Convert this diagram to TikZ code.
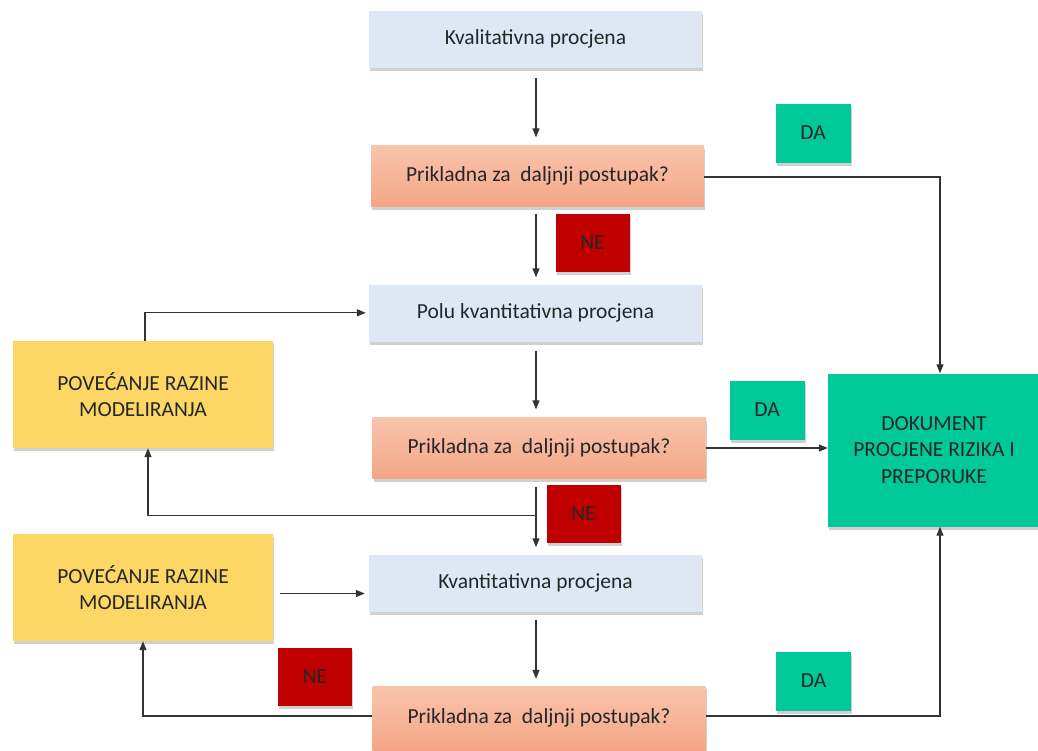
\documentclass[tikz,border=0pt]{standalone}
\usepackage{fontspec}
\setmainfont{Carlito}
\usetikzlibrary{arrows.meta,shadows,calc}
\definecolor{boxblue}{HTML}{DEE8F4}
\definecolor{salmtop}{HTML}{F9C4AC}
\definecolor{salmbot}{HTML}{F4A686}
\definecolor{dagreen}{HTML}{00C999}
\definecolor{nered}{HTML}{C00000}
\definecolor{povyel}{HTML}{FDD766}
\definecolor{linegray}{HTML}{333333}
\begin{document}
\begin{tikzpicture}[x=1pt,y=-1pt,
  every node/.style={font=\fontsize{21.5}{26.5}\selectfont, text=black!85, inner sep=0pt, align=center},
  shad/.style={drop shadow={shadow xshift=1pt,shadow yshift=-3pt,opacity=0.3,fill=black!60}},
  bluebox/.style={shad, fill=boxblue, minimum width=333pt, minimum height=57pt},
  qbox/.style={shad, top color=salmtop, bottom color=salmbot, minimum width=333pt, minimum height=61pt},
  dabox/.style={shad, fill=dagreen, minimum width=75pt, minimum height=59pt},
  nebox/.style={shad, fill=nered, minimum width=74pt, minimum height=58pt},
  povbox/.style={shad, fill=povyel, minimum width=260pt, minimum height=107pt},
  conn/.style={draw=linegray, line width=1.2pt},
  arr/.style={conn, -{Triangle[length=9pt,width=7pt]}}
]
\useasboundingbox (0,0) rectangle (1038,750);
\fill[white] (0,0) rectangle (1038,750);

\node[bluebox] (kval) at (535.5,39) {Kvalitativna procjena};
\node[qbox] (p1) at (537.5,176) {Prikladna za \ daljnji postupak?};
\node[dabox] (da1) at (813,133) {DA};
\node[nebox] (ne1) at (592.5,243) {NE};
\node[bluebox] (polu) at (535.5,313) {Polu kvantitativna procjena};
\node[qbox] (p2) at (539,448) {Prikladna za \ daljnji postupak?};
\node[dabox] (da2) at (767,410) {DA};
\node[nebox] (ne2) at (583.5,514) {NE};
\node[povbox] (pov1) at (143,394.5) {POVEĆANJE RAZINE\\MODELIRANJA};
\node[povbox] (pov2) at (143,587.5) {POVEĆANJE RAZINE\\MODELIRANJA};
\node[bluebox] (kvant) at (535.5,583) {Kvantitativna procjena};
\node[qbox, minimum height=64pt] (p3) at (539,718) {Prikladna za \ daljnji postupak?};
\node[nebox] (ne3) at (315,677) {NE};
\node[dabox] (da3) at (813.5,681) {DA};
\node[shad, fill=dagreen, minimum width=212pt, minimum height=153pt] (dok) at (934,450) {DOKUMENT\\PROCJENE RIZIKA I\\PREPORUKE};

% vertical arrows (x = 536)
\coordinate (v1) at ($(kval.south)+(0.5,10)$);
\draw[arr] (v1) -- ($(v1 |- p1.north)+(0,-8)$);
\coordinate (v2) at ($(p1.south)+(-1.5,7)$);
\draw[arr] (v2) -- ($(v2 |- polu.north)+(0,-7)$);
\coordinate (v3) at ($(polu.south)+(0.5,9)$);
\draw[arr] (v3) -- ($(v3 |- p2.north)+(0,-8)$);
\coordinate (v4) at ($(p2.south)+(-3,8)$);
\coordinate (br) at ($(p2.south)+(-3,37)$);
\draw[arr] (v4) -- ($(v4 |- kvant.north)+(0,-7)$);
\draw[arr] (br) -| ([xshift=5pt]pov1.south);
\coordinate (v5) at ($(kvant.south)+(0.5,8)$);
\draw[arr] (v5) -- ($(v5 |- p3.north)+(0,-7)$);

% loop back to Polu
\coordinate (up1) at ($(pov1.north)+(2,-28)$);
\draw[arr] ([xshift=2pt]pov1.north) -- (up1) -- ($(up1 -| polu.west)+(-3,0)$);
% Pov2 -> Kvant
\coordinate (pk) at ($(pov2.east)+(7,6)$);
\draw[arr] (pk) -- ($(pk -| kvant.west)+(-4,0)$);
% P3 -> Pov2
\draw[arr] ([yshift=2pt]p3.west) -| (pov2.south);
% P3 -> Dok
\draw[arr] ([yshift=2pt]p3.east) -| ([xshift=6pt]dok.south);
% P1 -> Dok
\draw[arr] ([yshift=-1pt]p1.east) -| ([xshift=6pt]dok.north);
% P2 -> Dok
\draw[arr] (p2.east) -- (p2.east -| dok.west);
\end{tikzpicture}
\end{document}
